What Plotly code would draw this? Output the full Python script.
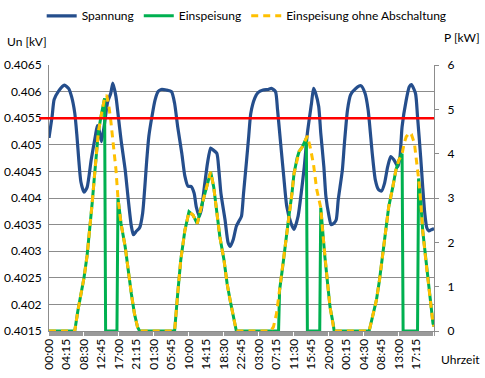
import plotly.graph_objects as go

# ---------------- data ----------------
# x positions are 15-minute step indices from the start (00:00 of day 1)
tick_labels = ["00:00", "04:15", "08:30", "12:45", "17:00", "21:15", "01:30", "05:45",
               "10:00", "14:15", "18:30", "22:45", "03:00", "07:15", "11:30", "15:45",
               "20:00", "00:15", "04:30", "08:45", "13:00", "17:15"]
tick_step = 17  # one label every 17 quarter-hours (4h15)
n_steps = 374

spannung_idx = [0, 3, 5, 9, 15, 19, 22, 25, 27, 29, 31, 34, 37, 41, 45, 47, 49, 51, 54, 57,
                60, 62, 65, 67, 70, 74, 77, 80, 82, 85, 88, 91, 95, 97, 100, 103, 106, 109,
                114, 119, 122, 125, 129, 132, 135, 138, 141, 143, 146, 148, 151, 154, 157,
                159, 163, 165, 167, 171, 174, 176, 179, 182, 185, 187, 189, 192, 194, 196,
                200, 203, 208, 213, 216, 220, 222, 225, 228, 231, 235, 238, 242, 245, 248,
                251, 255, 257, 259, 262, 264, 267, 269, 272, 274, 277, 279, 281, 285, 287,
                290, 293, 298, 303, 307, 310, 314, 317, 320, 323, 326, 329, 332, 335, 339,
                341, 343, 347, 350, 352, 356, 358, 361, 363, 365, 367, 369, 372, 374]
spannung_kv = [0.40513, 0.40553, 0.40585, 0.40600, 0.40612, 0.40606, 0.40590, 0.40560,
               0.40520, 0.40470, 0.40430, 0.40411, 0.40420, 0.40472, 0.40516, 0.40536,
               0.40525, 0.40506, 0.40541, 0.40581, 0.40597, 0.40616, 0.40591, 0.40559,
               0.40509, 0.40453, 0.40397, 0.40347, 0.40331, 0.40338, 0.40344, 0.40372,
               0.40472, 0.40516, 0.40553, 0.40584, 0.40600, 0.40604, 0.40603, 0.40600,
               0.40578, 0.40534, 0.40484, 0.40441, 0.40422, 0.40422, 0.40409, 0.40384,
               0.40366, 0.40378, 0.40422, 0.40466, 0.40494, 0.40491, 0.40484, 0.40453,
               0.40409, 0.40359, 0.40316, 0.40309, 0.40322, 0.40347, 0.40358, 0.40366,
               0.40409, 0.40472, 0.40516, 0.40559, 0.40588, 0.40598, 0.40603, 0.40604,
               0.40606, 0.40600, 0.40566, 0.40503, 0.40441, 0.40384, 0.40353, 0.40341,
               0.40366, 0.40409, 0.40459, 0.40522, 0.40578, 0.40606, 0.40597, 0.40572,
               0.40522, 0.40459, 0.40403, 0.40366, 0.40350, 0.40353, 0.40359, 0.40397,
               0.40453, 0.40503, 0.40566, 0.40594, 0.40606, 0.40611, 0.40597, 0.40566,
               0.40484, 0.40434, 0.40416, 0.40413, 0.40428, 0.40459, 0.40478, 0.40472,
               0.40459, 0.40478, 0.40534, 0.40584, 0.40609, 0.40613, 0.40597, 0.40553,
               0.40478, 0.40422, 0.40372, 0.40344, 0.40338, 0.40341, 0.40342]

einspeisung_idx = [0, 25, 28, 31, 34, 37, 40, 42, 44, 46, 48, 51, 53, 54, 55, 66, 67, 70, 74,
                   77, 80, 83, 86, 88,
                   122, 125, 128, 132, 136, 140, 144, 148, 153, 157, 160, 163, 166, 170, 173,
                   176, 179, 182,
                   223, 224, 227, 230, 233, 236, 238, 241, 243, 246, 249, 250, 251, 263, 264,
                   266, 268, 271, 273, 276, 277,
                   311, 314, 318, 321, 324, 327, 330, 334, 337, 340, 343, 344, 358, 359, 361,
                   363, 366, 369, 371, 373, 374]
einspeisung_kw = [0, 0, 0.45, 0.8, 1.2, 1.7, 2.35, 2.9, 3.45, 4.0, 4.5, 4.9, 5.15, 5.25, 0, 0,
                  3.0, 2.42, 1.9, 1.3, 0.84, 0.39, 0.09, 0,
                  0, 0.84, 1.6, 2.27, 2.69, 2.61, 2.42, 2.8, 3.25, 3.59, 3.25, 2.73, 2.12, 1.6,
                  1.07, 0.69, 0.32, 0,
                  0, 0.92, 1.45, 2.05, 2.58, 3.1, 3.55, 3.9, 4.05, 4.15, 4.3, 4.35, 0, 0, 2.78,
                  2.2, 1.67, 0.99, 0.54, 0.17, 0,
                  0, 0.32, 0.69, 1.14, 1.67, 2.27, 2.8, 3.25, 3.63, 3.86, 4.0, 0, 0, 3.44, 2.95,
                  2.27, 1.6, 0.92, 0.47, 0.17, 0.1]

ohne_idx = [0, 25, 28, 31, 34, 37, 40, 42, 44, 46, 48, 51, 53, 54, 56, 58, 60, 62, 65, 67, 70,
            74, 77, 80, 83, 86, 88,
            122, 125, 128, 132, 136, 140, 144, 148, 153, 157, 160, 163, 166, 170, 173, 176,
            179, 182,
            215, 218, 221, 224, 227, 230, 233, 236, 238, 241, 243, 246, 249, 251, 254, 257,
            260, 263, 264, 266, 268, 271, 273, 276, 277,
            311, 314, 318, 321, 324, 327, 330, 334, 337, 340, 343, 345, 347, 350, 352, 355,
            357, 359, 361, 363, 366, 369, 371, 373, 374]
ohne_kw = [0, 0, 0.45, 0.8, 1.2, 1.7, 2.35, 2.9, 3.45, 4.0, 4.5, 4.9, 5.15, 5.25, 5.32, 5.1,
           4.75, 4.3, 3.65, 3.0, 2.42, 1.9, 1.3, 0.84, 0.39, 0.09, 0,
           0, 0.84, 1.6, 2.27, 2.69, 2.61, 2.42, 2.8, 3.25, 3.59, 3.25, 2.73, 2.12, 1.6, 1.07,
           0.69, 0.32, 0,
           0, 0.09, 0.39, 0.92, 1.45, 2.05, 2.58, 3.1, 3.55, 3.9, 4.05, 4.15, 4.3, 4.4, 4.12,
           3.75, 3.2, 2.85, 2.78, 2.2, 1.67, 0.99, 0.54, 0.17, 0,
           0, 0.32, 0.69, 1.14, 1.67, 2.27, 2.8, 3.25, 3.63, 3.86, 4.0, 4.23, 4.38, 4.47, 4.44,
           4.23, 3.86, 3.44, 2.95, 2.27, 1.6, 0.92, 0.47, 0.17, 0.1]

grenzwert_kv = 0.4055
u_ticks = [0.4015, 0.402, 0.4025, 0.403, 0.4035, 0.404, 0.4045, 0.405, 0.4055, 0.406, 0.4065]
u_tick_text = ["0.4015", "0.402", "0.4025", "0.403", "0.4035", "0.404", "0.4045", "0.405",
               "0.4055", "0.406", "0.4065"]
p_ticks = [0, 1, 2, 3, 4, 5, 6]

# ---------------- figure ----------------
FONT = "Lato"
GRID = "#8c8c8c"

fig = go.Figure()
fig.add_trace(go.Scatter(x=spannung_idx, y=spannung_kv, name="Spannung", mode="lines",
                         line=dict(color="#254E8C", width=3.2, shape="spline", smoothing=0.6),
                         yaxis="y"))
fig.add_trace(go.Scatter(x=einspeisung_idx, y=einspeisung_kw, name="Einspeisung", mode="lines",
                         line=dict(color="#00B050", width=3), yaxis="y2"))
fig.add_trace(go.Scatter(x=ohne_idx, y=ohne_kw, name="Einspeisung ohne Abschaltung",
                         mode="lines",
                         line=dict(color="#FFC000", width=3, dash="7px,5px"), yaxis="y2"))

fig.add_shape(type="line", xref="paper", yref="y", x0=-0.026, x1=1.0,
              y0=grenzwert_kv, y1=grenzwert_kv, line=dict(color="#FF0000", width=2.5),
              layer="above")

fig.update_layout(
    width=485, height=378,
    margin=dict(l=49, r=51, t=65, b=47, autoexpand=False),
    paper_bgcolor="white", plot_bgcolor="white",
    font=dict(family=FONT, size=12, color="#000000"),
    showlegend=True,
    legend=dict(orientation="h", x=-0.019, xanchor="left", y=1.185, yanchor="middle",
                font=dict(family=FONT, size=12), tracegroupgap=0,
                bgcolor="rgba(0,0,0,0)"),
    xaxis=dict(range=[0, n_steps], tickmode="array",
               tickvals=[i * tick_step for i in range(len(tick_labels))],
               ticktext=tick_labels, tickangle=-90, ticks="",
               minor=dict(ticks="outside", dtick=1, ticklen=4, tickcolor="#9a9a9a",
                          tickwidth=1, showgrid=False),
               showgrid=False, zeroline=False, showline=True, linecolor=GRID, linewidth=1,
               tickfont=dict(size=12), ticklabelstandoff=2),
    yaxis=dict(range=[0.4015, 0.4065], tickmode="array", tickvals=u_ticks,
               ticktext=u_tick_text, showgrid=True, gridcolor=GRID, gridwidth=1,
               zeroline=False, showline=True, linecolor=GRID, linewidth=1, ticks="",
               tickfont=dict(size=12), ticklabelstandoff=4),
    yaxis2=dict(range=[0, 6], tickmode="array", tickvals=p_ticks, overlaying="y",
                side="right", showgrid=False, zeroline=False, showline=True,
                linecolor=GRID, linewidth=1, ticks="outside", ticklen=4, tickcolor=GRID,
                tickfont=dict(size=12), ticklabelstandoff=6),
    annotations=[
        dict(text="Un [kV]", xref="paper", yref="paper", x=-0.114, y=1.09,
             xanchor="left", yanchor="middle", showarrow=False, font=dict(size=12)),
        dict(text="P [kW]", xref="paper", yref="paper", x=1.124, y=1.105,
             xanchor="right", yanchor="middle", showarrow=False, font=dict(size=12)),
        dict(text="Uhrzeit", xref="paper", yref="paper", x=1.124, y=-0.108,
             xanchor="right", yanchor="middle", showarrow=False, font=dict(size=12)),
    ],
)

fig.write_html("out.html", config={"displayModeBar": False},
               post_script="document.body.style.margin='0';"
                           "document.body.style.overflow='hidden';")
